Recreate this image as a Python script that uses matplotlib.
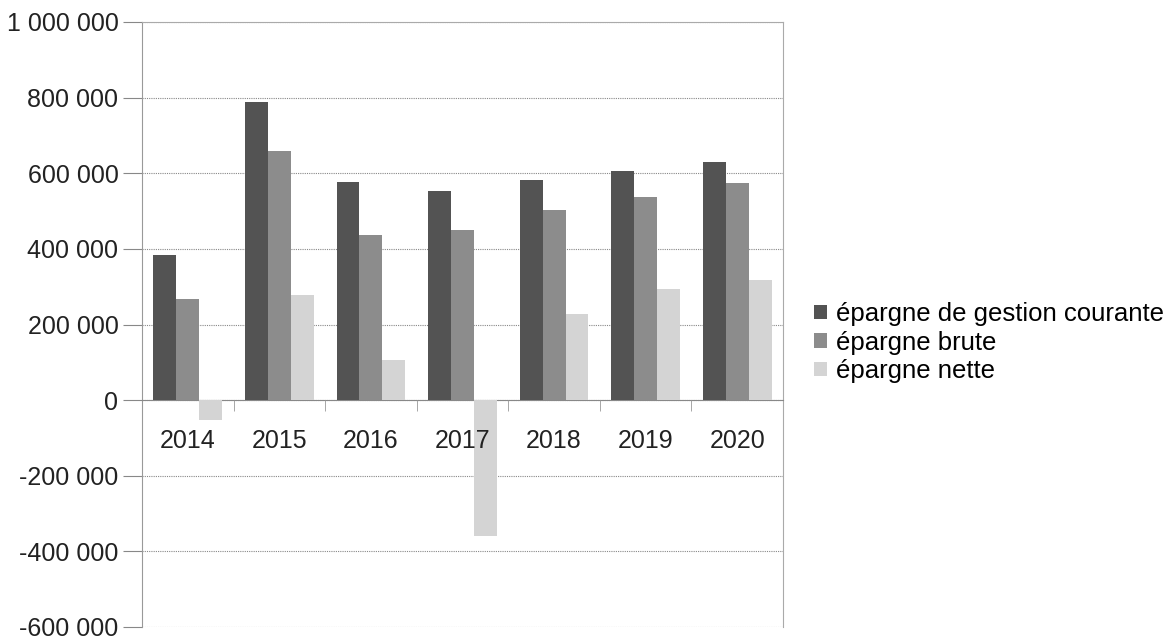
import matplotlib.pyplot as plt
import numpy as np

years = ['2014', '2015', '2016', '2017', '2018', '2019', '2020']
gestion_courante = [385000, 789000, 578000, 552000, 582000, 606000, 631000]
brute = [267000, 659000, 438000, 451000, 502000, 538000, 574000]
nette = [-53000, 278000, 107000, -360000, 227000, 294000, 318000]

series = ['épargne de gestion courante', 'épargne brute', 'épargne nette']
colors = ['#535353', '#8c8c8c', '#d4d4d4']

plt.rcParams['font.family'] = ['Liberation Sans', 'DejaVu Sans']

fig = plt.figure(figsize=(11.73, 6.4), dpi=100)
ax = fig.add_axes([142 / 1173, 13 / 640, 641 / 1173, 605 / 640])

x = np.arange(len(years))
w = 0.25
for k, vals in enumerate([gestion_courante, brute, nette]):
    ax.bar(x + (k - 1) * w, vals, w, color=colors[k], label=series[k], zorder=3)

ax.set_xlim(-0.5, len(years) - 0.5)
ax.set_ylim(-600000, 1000000)
ax.set_yticks(np.arange(-600000, 1000001, 200000))
ax.set_yticklabels(['{:,}'.format(v).replace(',', ' ') for v in range(-600000, 1000001, 200000)])
ax.yaxis.grid(True, linestyle=(0, (1, 1)), color='#888888', linewidth=0.8, zorder=0)
ax.tick_params(axis='y', length=14, width=0.8, color='#888888', labelsize=18, pad=3)

ax.spines['bottom'].set_position(('data', 0))
ax.spines['bottom'].set_color('#888888')
ax.spines['bottom'].set_linestyle((0, (1, 1)))
ax.spines['left'].set_color('#999999')
ax.spines['right'].set_color('#aaaaaa')
ax.spines['right'].set_linestyle((0, (1, 1)))
ax.spines['top'].set_color('#aaaaaa')
ax.spines['top'].set_linestyle((0, (1, 1)))

ax.set_xticks(x)
ax.set_xticklabels(years)
ax.set_xticks(np.arange(0.5, len(years) - 1, 1), minor=True)
ax.tick_params(axis='x', which='major', length=0, labelsize=18, pad=21)
ax.tick_params(axis='x', which='minor', length=8, direction='out', color='#999999')
ax.xaxis.set_zorder(4)
for t in ax.get_xticklabels() + ax.get_yticklabels():
    t.set_color('#222222')

ax.legend(loc='center left', bbox_to_anchor=(1.02, 0.47), frameon=False,
          fontsize=18.5, handlelength=0.5, handleheight=0.5, handletextpad=0.35,
          labelspacing=0.18, borderaxespad=0.3)

fig.savefig('out.png', dpi=100)
